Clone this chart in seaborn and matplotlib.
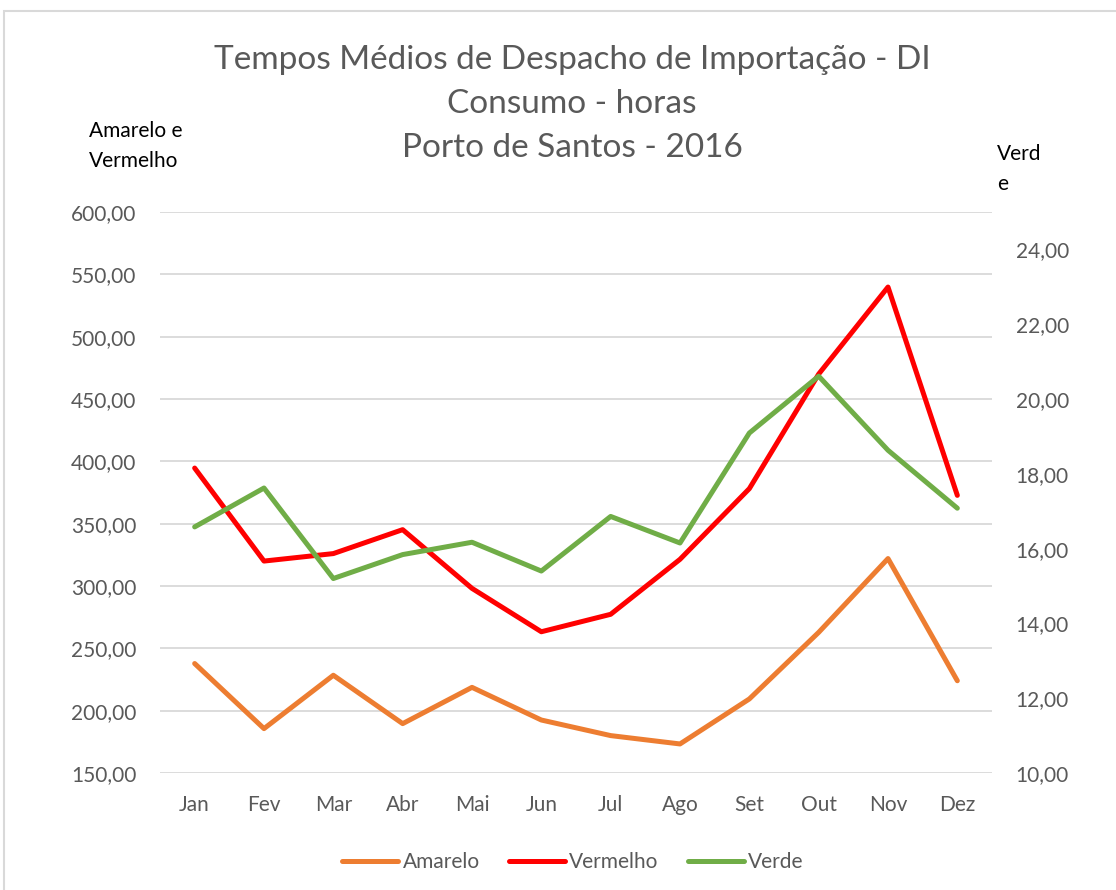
import numpy as np
import pandas as pd
import matplotlib
matplotlib.use("Agg")
import matplotlib.pyplot as plt
import seaborn as sns
from matplotlib.ticker import FuncFormatter
from matplotlib.patches import Rectangle

# Dados
meses = ["Jan", "Fev", "Mar", "Abr", "Mai", "Jun", "Jul", "Ago", "Set", "Out", "Nov", "Dez"]
amarelo = [237.8, 185.6, 228.4, 189.6, 218.7, 192.5, 180.0, 173.3, 209.4, 262.8, 322.0, 224.0]
vermelho = [394.6, 320.0, 326.0, 345.2, 298.1, 263.3, 277.3, 321.4, 378.1, 470.0, 539.8, 372.7]
verde = [16.58, 17.62, 15.20, 15.84, 16.17, 15.40, 16.86, 16.15, 19.09, 20.61, 18.63, 17.08]

left_ticks = [150, 200, 250, 300, 350, 400, 450, 500, 550, 600]
right_ticks = [10, 12, 14, 16, 18, 20, 22, 24]

df = pd.DataFrame({"pos": np.arange(len(meses)), "mes": meses,
                   "Amarelo": amarelo, "Vermelho": vermelho, "Verde": verde})

sns.set_style("white")
plt.rcParams["font.family"] = ["Lato", "DejaVu Sans"]
plt.rcParams["lines.solid_capstyle"] = "round"
plt.rcParams["lines.solid_joinstyle"] = "round"

fig = plt.figure(figsize=(11.16, 8.9), dpi=100)
ax = fig.add_axes([160 / 1116, 1 - 773 / 890, (992 - 160) / 1116, (773 - 212) / 890])
ax2 = ax.twinx()

sns.lineplot(data=df, x="pos", y="Amarelo", ax=ax, color="#ED7D31", linewidth=3.6, label="Amarelo", legend=False)
sns.lineplot(data=df, x="pos", y="Vermelho", ax=ax, color="#FF0000", linewidth=3.6, label="Vermelho", legend=False)
sns.lineplot(data=df, x="pos", y="Verde", ax=ax2, color="#70AD47", linewidth=3.6, label="Verde", legend=False)

fmt = FuncFormatter(lambda v, p: f"{v:.2f}".replace(".", ","))

ax.set_xlim(-0.5, len(meses) - 0.5)
ax.set_xticks(df["pos"])
ax.set_xticklabels(meses)
ax.set_ylim(150, 600)
ax.set_yticks(left_ticks)
ax.yaxis.set_major_formatter(fmt)
ax2.set_ylim(10, 25)
ax2.set_yticks(right_ticks)
ax2.yaxis.set_major_formatter(fmt)

ax.set_xlabel("")
ax.set_ylabel("")
ax2.set_ylabel("")

ax.grid(axis="y", color="#D9D9D9", linewidth=1.3)
ax.grid(axis="x", visible=False)
ax2.grid(False)
for a in (ax, ax2):
    for s in a.spines.values():
        s.set_visible(False)
    a.set_facecolor("none")

ax.tick_params(axis="y", length=0, pad=17, labelsize=15, labelcolor="#595959")
ax.tick_params(axis="x", length=0, pad=16, labelsize=15, labelcolor="#595959")
ax2.tick_params(axis="y", length=0, pad=17, labelsize=15, labelcolor="#595959")

# título e rótulos dos eixos
fig.text(572 / 1116, 1 - 104 / 890,
         "Tempos Médios de Despacho de Importação - DI\nConsumo - horas\nPorto de Santos - 2016",
         ha="center", va="center", fontsize=24, color="#595959", linespacing=1.58)
fig.text(89 / 1116, 1 - 146 / 890, "Amarelo e\nVermelho", ha="left", va="center",
         fontsize=15, color="black", linespacing=1.58)
fig.text(997 / 1116, 1 - 169 / 890, "Verd\ne", ha="left", va="center",
         fontsize=15, color="black", linespacing=1.65)

# legenda
handles, labels = [], []
for a in (ax, ax2):
    h, l = a.get_legend_handles_labels()
    handles += h
    labels += l
fig.legend(handles, labels, loc="center", bbox_to_anchor=(573 / 1116, 1 - 862 / 890), ncol=3,
           frameon=False, fontsize=15, labelcolor="#595959", handlelength=2.7,
           handletextpad=0.2, columnspacing=1.4)

# moldura do gráfico
fig.patches.append(Rectangle((4 / 1116, -0.1), 1.2, 1.1 - 11 / 890, transform=fig.transFigure,
                             fill=False, edgecolor="#D9D9D9", linewidth=1.5))

fig.savefig("out.png", dpi=100)
